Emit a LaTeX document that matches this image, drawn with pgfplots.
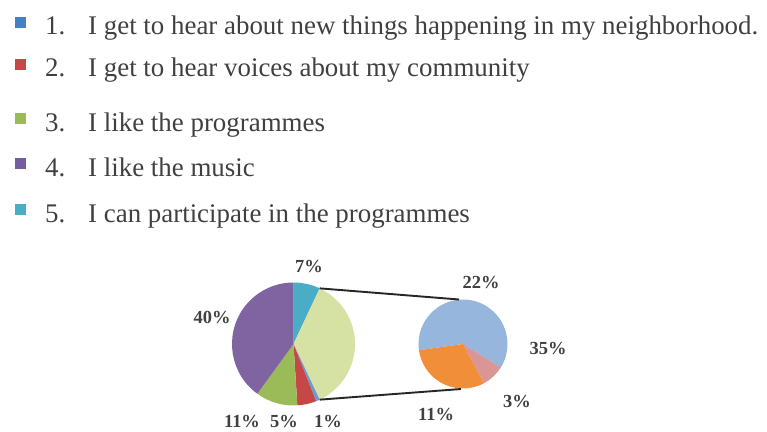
\documentclass[border=0pt]{standalone}
\usepackage{pgfplots}
\pgfplotsset{compat=1.18}
\usepackage{fontspec}
\setmainfont{Liberation Serif}

\definecolor{txt}{RGB}{64,64,64}
\definecolor{lblue}{RGB}{68,128,196}
\definecolor{lred}{RGB}{200,70,70}
\definecolor{lgreen}{RGB}{155,187,89}
\definecolor{lpurple}{RGB}{118,92,160}
\definecolor{lcyan}{RGB}{75,172,198}
% slice colours
\definecolor{pcyan}{RGB}{75,172,198}
\definecolor{pother}{RGB}{214,225,164}
\definecolor{pblue}{RGB}{110,155,205}
\definecolor{pred}{RGB}{198,72,70}
\definecolor{pgreen}{RGB}{155,187,89}
\definecolor{ppurple}{RGB}{128,100,162}
\definecolor{sblue}{RGB}{150,182,222}
\definecolor{spink}{RGB}{217,150,148}
\definecolor{sorange}{RGB}{240,142,58}

\begin{document}
\begin{tikzpicture}
\begin{axis}[
    hide axis, scale only axis,
    width=767bp, height=432bp,
    xmin=0, xmax=767, ymin=0, ymax=432,
    y dir=reverse, clip=false,
]
\addplot[draw=none] coordinates {(0,0) (767,432)};

% main pie, clockwise from the top
\pgfplotsextra{
  \xdef\pieA{90}
  \foreach \v/\c in {7/pcyan,36/pother,1/pblue,5/pred,11/pgreen,40/ppurple}{
    \pgfmathsetmacro\pieB{\pieA-3.6*\v}
    \fill[\c] (axis cs:293.5,344) -- ++(\pieA:61.5bp)
      arc[start angle=\pieA, end angle=\pieB, radius=61.5bp] -- cycle;
    \xdef\pieA{\pieB}
  }
  % second pie: the 36% split up
  \xdef\pieA{188}
  \foreach \v/\c in {22/sblue,3/spink,11/sorange}{
    \pgfmathsetmacro\pieB{\pieA-10*\v}
    \fill[\c] (axis cs:463,344) -- ++(\pieA:44.5bp)
      arc[start angle=\pieA, end angle=\pieB, radius=44.5bp] -- cycle;
    \xdef\pieA{\pieB}
  }
  \pgfmathsetmacro\topA{90-3.6*7}
  \pgfmathsetmacro\botA{90-3.6*43}
  \draw[line width=1.9bp, black!85] (axis cs:293.5,344) ++(\topA:61.5bp) -- (axis cs:459,299.5);
  \draw[line width=1.9bp, black!85] (axis cs:293.5,344) ++(\botA:61.5bp) -- (axis cs:461,389);
}

% legend
\pgfplotsextra{
  \foreach \y/\c/\n/\t in {
      35/lblue/1./I get to hear about new things happening in my neighborhood.,
      77/lred/2./I get to hear voices about my community,
      131/lgreen/3./I like the programmes,
      176/lpurple/4./I like the music,
      222/lcyan/5./I can participate in the programmes}{
    \fill[\c] (axis cs:15,\y-18) rectangle (axis cs:26,\y-7);
    \node[anchor=base west, inner sep=0pt, text=txt, font=\fontsize{27}{30}\selectfont]
      at (axis cs:45,\y) {\n};
    \node[anchor=base west, inner sep=0pt, text=txt, font=\fontsize{27}{30}\selectfont]
      at (axis cs:88,\y) {\t};
  }
}

% data labels
\pgfplotsextra{
  \foreach \x/\y/\t in {309/266/7\%, 212/317/40\%, 481/282/22\%, 548/348/35\%,
                        517/401/3\%, 436/414/11\%}{
    \node[inner sep=0pt, text=txt, font=\bfseries\fontsize{18.5}{21}\selectfont]
      at (axis cs:\x,\y) {\t};
  }
  \foreach \x/\t in {242/11\%, 284/5\%, 328/1\%}{
    \node[anchor=base, inner sep=0pt, text=txt, font=\bfseries\fontsize{18.5}{21}\selectfont]
      at (axis cs:\x,427) {\t};
  }
}
\end{axis}
\pgfresetboundingbox
\path[use as bounding box] (0,0) rectangle (767bp,432bp);
\end{tikzpicture}
\end{document}
